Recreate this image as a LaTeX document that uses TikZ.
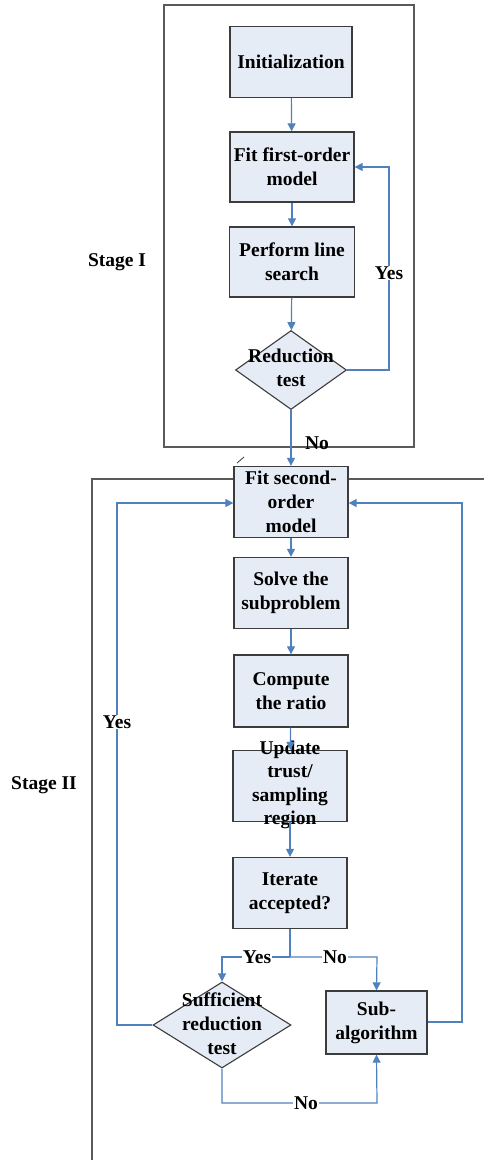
\documentclass[tikz,border=0pt]{standalone}
\usepackage{fontspec}
\setmainfont{Liberation Serif}
\usetikzlibrary{shapes.geometric,arrows.meta}
\definecolor{boxfill}{HTML}{E6ECF6}
\definecolor{boxline}{HTML}{3C3C3C}
\definecolor{arr}{HTML}{4F81BD}
\definecolor{frame}{HTML}{5A5A5A}
\tikzset{
  every node/.style={font=\bfseries\fontsize{19.5}{24}\selectfont, align=center},
  stepbox/.style={draw=boxline, line width=1.3pt, fill=boxfill, minimum width=#1, minimum height=71pt, inner sep=0pt},
  stepbox/.default=114pt,
  decis/.style={diamond, draw=boxline, line width=1.1pt, fill=boxfill, inner sep=0pt},
  conn/.style={draw=arr, line width=1.2pt, -{Triangle[length=8pt,width=8pt]}},
  lbl/.style={fill=white, inner sep=1pt},
  stageframe/.style={draw=frame, line width=1.5pt}
}
\begin{document}
\begin{tikzpicture}[x=1pt,y=-1pt]
\useasboundingbox (0,0) rectangle (484,1160);
% stage frames
\draw[stageframe] (164,5) rectangle (414,447);
\draw[stageframe] (92,1160) -- (92,479) -- (484,479);
\draw[boxline, line width=0.8pt] (237,463) -- (244,457);
% stage labels
\node (s1) at (117,262) {Stage I};
\node (s2) at (44,785) {Stage II};
% stage I nodes
\node[stepbox=122pt] (init) at (291,62) {Initialization};
\node[stepbox=124pt, minimum height=70pt] (fit1) at (292,167) {Fit first-order\\model};
\node[stepbox=125pt, minimum height=70pt] (pls) at (292,262) {Perform line\\search};
\node[decis, minimum width=111pt, minimum height=79pt] (rt) at (291,370) {};
\node (rtt) at (291,368) {Reduction\\test};
% stage II nodes
\node[stepbox] (fit2) at (291,502) {Fit second-\\order\\model};
\node[stepbox] (solve) at (291,593) {Solve the\\subproblem};
\node[stepbox, minimum height=72pt] (comp) at (291,691) {Compute\\the ratio};
\node[stepbox] (upd) at (290,786) {};
\node[font=\bfseries\fontsize{19.5}{23.5}\selectfont] (updt) at (290,785) {Update\\trust/\\sampling\\region};
\node[stepbox] (iter) at (290,893) {Iterate\\accepted?};
\node[decis, minimum width=138pt, minimum height=86pt] (srt) at (222,1025) {};
\node (srtt) at (222,1024) {Sufficient\\reduction\\test};
\node[stepbox=101pt, minimum height=63pt] (sub) at (376.5,1022.5) {Sub-\\algorithm};
% coordinates
\coordinate (yr) at (389,370);
\coordinate (yt) at (389,167);
\coordinate (br) at (290,957);
\coordinate (bl) at (222,957);
\coordinate (bn) at (377,957);
\coordinate (nb1) at (222,1103);
\coordinate (nb2) at (377,1103);
\coordinate (ly1) at (117,1025);
\coordinate (ly2) at (117,503);
\coordinate (ry1) at (462,1022);
\coordinate (ry2) at (462,503);
% connectors stage I
\draw[conn] (init) -- (fit1);
\draw[conn] (fit1) -- (pls);
\draw[conn] (pls) -- (rt);
\draw[conn] (rt.east) -- (yr) -- (yt) -- (fit1.east);
\draw[conn] (rt.south) -- (fit2.north);
\node[lbl] (yes1) at (389,273) {Yes};
\node (no1) at (317,443) {No};
% connectors stage II
\draw[conn] (fit2) -- (solve);
\draw[conn] (solve) -- (comp);
\draw[conn] (comp) -- (upd);
\draw[conn] (upd) -- (iter);
\draw[draw=arr, line width=1.2pt] (iter.south) -- (br);
\draw[conn] (br) -- (bl) -- (srt.north);
\draw[conn] (br) -- (bn) -- (sub.north);
\node[lbl] (yes2) at (257,957) {Yes};
\node[lbl] (no2) at (335,957) {No};
\draw[conn] (srt.south) -- (nb1) -- (nb2) -- (sub.south);
\node[lbl] (no3) at (306,1103) {No};
\draw[conn] (srt.west) -- (ly1) -- (ly2) -- (fit2.west |- ly2);
\node[lbl] (yes3) at (117,722) {Yes};
\draw[conn] (sub.east |- ry1) -- (ry1) -- (ry2) -- (fit2.east |- ry2);
\end{tikzpicture}
\end{document}
